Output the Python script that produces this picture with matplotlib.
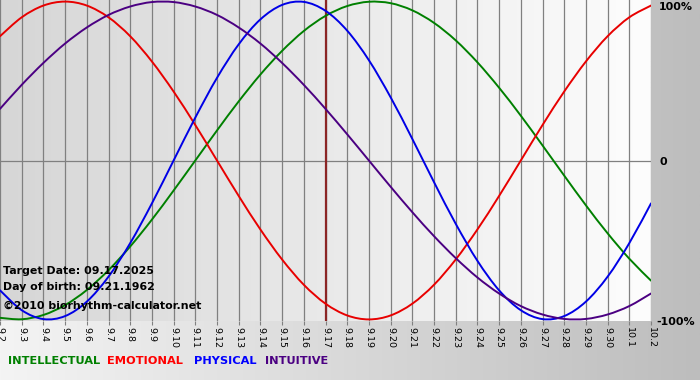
import matplotlib
matplotlib.use("Agg")
import matplotlib.pyplot as plt
from matplotlib.path import Path
from matplotlib.patches import PathPatch
from matplotlib.colors import LinearSegmentedColormap
import numpy as np

# dates on the x axis (9.2 .. 10.2), target date is 9.17
days = ["9.%d" % d for d in range(2, 31)] + ["10.1", "10.2"]
target_day = "9.17"

# daily values (-1 .. 1)
intellectual = [-0.99, -0.999, -0.972, -0.91, -0.815, -0.69, -0.541, -0.372, -0.189, 0.0, 0.189,
                0.372, 0.541, 0.69, 0.815, 0.91, 0.972, 0.999, 0.99, 0.945, 0.866, 0.756, 0.618,
                0.458, 0.282, 0.095, -0.095, -0.282, -0.458, -0.618, -0.756]
emotional = [0.782, 0.901, 0.975, 1.0, 0.975, 0.901, 0.782, 0.623, 0.434, 0.223, 0.0, -0.223,
             -0.434, -0.623, -0.782, -0.901, -0.975, -1.0, -0.975, -0.901, -0.782, -0.623, -0.434,
             -0.223, 0.0, 0.223, 0.434, 0.623, 0.782, 0.901, 0.975]
physical = [-0.817, -0.942, -0.998, -0.979, -0.888, -0.731, -0.52, -0.27, 0.0, 0.27, 0.52, 0.731,
            0.888, 0.979, 0.998, 0.942, 0.817, 0.631, 0.398, 0.136, -0.136, -0.398, -0.631,
            -0.817, -0.942, -0.998, -0.979, -0.888, -0.731, -0.52, -0.27]
intuitive = [0.325, 0.476, 0.614, 0.736, 0.837, 0.916, 0.969, 0.997, 0.997, 0.969, 0.916, 0.837,
             0.736, 0.614, 0.476, 0.325, 0.165, 0.0, -0.165, -0.325, -0.476, -0.614, -0.736,
             -0.837, -0.916, -0.969, -0.997, -0.997, -0.969, -0.916, -0.837]

series = [("INTELLECTUAL", intellectual, "#008000", "#008000"),
          ("EMOTIONAL", emotional, "#e80000", "#ff0000"),
          ("PHYSICAL", physical, "#0000e6", "#0000ff"),
          ("INTUITIVE", intuitive, "#4b0082", "#4b0082")]


def smooth_line(ax, xs, ys, color):
    # draw the daily points as a smooth (catmull-rom style) curve through them
    pts = np.column_stack([xs, ys]).astype(float)
    verts = [pts[0]]
    codes = [Path.MOVETO]
    n = len(pts)
    for i in range(n - 1):
        p0 = pts[max(i - 1, 0)]
        p1 = pts[i]
        p2 = pts[i + 1]
        p3 = pts[min(i + 2, n - 1)]
        verts += [p1 + (p2 - p0) / 6, p2 - (p3 - p1) / 6, p2]
        codes += [Path.CURVE4] * 3
    ax.add_patch(PathPatch(Path(verts, codes), fill=False, edgecolor=color, lw=1.4,
                           capstyle="round", zorder=3))


fig = plt.figure(figsize=(7, 3.8), dpi=100)

# figure background gradient
bg = fig.add_axes([0, 0, 1, 1], zorder=-10)
grad = np.linspace(0, 1, 256).reshape(1, -1)
bg.imshow(grad, aspect="auto", cmap=LinearSegmentedColormap.from_list("g", ["#f4f4f4", "#bdbdbd"]),
          extent=[0, 1, 0, 1])
bg.axis("off")

idx = np.arange(len(days))
ax = fig.add_axes([0, 1 - 321 / 380, 651 / 700, 321 / 380])
ax.imshow(grad, aspect="auto", cmap=LinearSegmentedColormap.from_list("p", ["#d6d6d6", "#fdfdfd"]),
          extent=[0, len(days) - 1, -1.01, 1.01], zorder=0)
ax.set_xlim(0, len(days) - 1)
ax.set_ylim(-1.01, 1.01)
for i in idx:
    ax.axvline(i, color="#808080", lw=0.9, zorder=1)
ax.axhline(0, color="#808080", lw=0.9, zorder=1)
ax.axvline(days.index(target_day), color="#8b2525", lw=1.6, zorder=2)

for name, vals, col, _ in series:
    smooth_line(ax, idx, vals, col)

for s in ax.spines.values():
    s.set_visible(False)
ax.set_xticks(idx)
ax.set_xticklabels(days, rotation=-90, fontsize=6.8)
ax.tick_params(axis="x", length=3, color="#808080", pad=1)
ax.set_yticks([])

txt = dict(fontsize=7.9, fontweight="bold", color="black")
ax.text(3 / 651, 1 - 271 / 321, "Target Date: 09.17.2025", transform=ax.transAxes, va="center", **txt)
ax.text(3 / 651, 1 - 287 / 321, "Day of birth: 09.21.1962", transform=ax.transAxes, va="center", **txt)
ax.text(3 / 651, 1 - 306 / 321, "\u00a92010 biorhythm-calculator.net", transform=ax.transAxes, va="center", **txt)

fig.text(659 / 700, 1 - 7 / 380, "100%", fontsize=7.9, fontweight="bold", va="center")
fig.text(660 / 700, 1 - 162 / 380, "0", fontsize=7.9, fontweight="bold", va="center")
fig.text(656 / 700, 1 - 322 / 380, "-100%", fontsize=7.9, fontweight="bold", va="center")

# coloured legend words under the chart
x = 8 / 700
gaps = [7, 11, 8, 0]
for (word, _, _, col), gap in zip(series, gaps):
    t = fig.text(x, 1 - 361 / 380, word, fontsize=8.2, fontweight="bold", color=col, va="center")
    fig.canvas.draw()
    x = t.get_window_extent().x1 / 700 + gap / 700

fig.savefig("out.png", dpi=100)
